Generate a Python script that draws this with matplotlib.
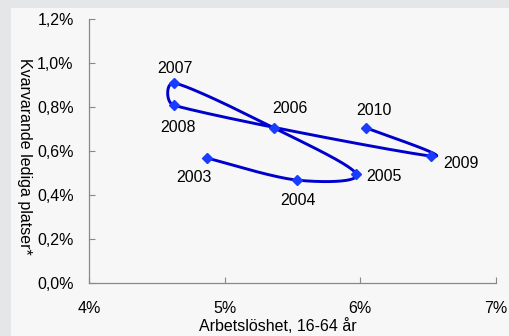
import numpy as np
import matplotlib
matplotlib.use('Agg')
import matplotlib.pyplot as plt
from matplotlib.patches import Rectangle
from matplotlib.ticker import FuncFormatter

plt.rcParams['font.family'] = ['Liberation Sans', 'DejaVu Sans']

years = ['2003', '2004', '2005', '2006', '2007', '2008', '2009', '2010']
# arbetslöshet 16-64 år (%) och kvarvarande lediga platser (%)
unemployment = [4.87, 5.53, 5.97, 5.36, 4.63, 4.625, 6.52, 6.04]
vacancies = [0.568, 0.468, 0.495, 0.706, 0.909, 0.808, 0.577, 0.706]

# etikettförskjutning i pixlar
label_offsets = [(-13, -19), (1, -20), (28, -2), (16, 19),
                 (0, 15), (4, -22), (30, -7), (8, 17)]


def smooth(xs, ys, sx, sy, n=40):
    # utjämnad linje i skärmskala; styrpunkterna begränsas till halva segmentet
    p = np.column_stack([np.array(xs) * sx, np.array(ys) * sy])
    p = np.vstack([p[0], p, p[-1]])
    out = []
    for i in range(1, len(p) - 2):
        p0, p1, p2, p3 = p[i - 1], p[i], p[i + 1], p[i + 2]
        seg_len = np.hypot(*(p2 - p1))
        v1 = (p2 - p0) / 6
        v2 = (p3 - p1) / 6
        l1, l2 = np.hypot(*v1), np.hypot(*v2)
        if l1 > seg_len * 0.4:
            v1 = v1 * (seg_len * 0.4) / l1
        if l2 > seg_len * 0.4:
            v2 = v2 * (seg_len * 0.4) / l2
        c1 = p1 + v1
        c2 = p2 - v2
        t = np.linspace(0, 1, n)[:, None]
        seg = ((1 - t) ** 3 * p1 + 3 * (1 - t) ** 2 * t * c1
               + 3 * (1 - t) * t ** 2 * c2 + t ** 3 * p2)
        out.append(seg if i == 1 else seg[1:])
    out = np.vstack(out)
    return out[:, 0] / sx, out[:, 1] / sy


fig = plt.figure(figsize=(5.09, 3.36), dpi=100)
fig.patch.set_facecolor('#e5e6e8')
fig.add_artist(Rectangle((11 / 509, 0), 1, 1 - 8 / 336, transform=fig.transFigure,
                         facecolor='#f7f7f7', edgecolor='none', zorder=0))

ax = fig.add_axes([89 / 509, 53 / 336, 407 / 509, 264 / 336])
ax.set_facecolor('#f7f7f7')
ax.set_xlim(4, 7)
ax.set_ylim(0, 1.2)

sx, sy = 135.5, 220.0
cx, cy = smooth(unemployment, vacancies, sx, sy)
ax.plot(cx, cy, color='#0000cc', lw=2.1, zorder=2)
ax.plot(unemployment, vacancies, linestyle='none', marker='D', ms=5,
        color='#1a3cff', zorder=3)

for x, y, year, (dx, dy) in zip(unemployment, vacancies, years, label_offsets):
    ax.annotate(year, (x, y), xytext=(dx, dy), textcoords='offset pixels',
                ha='center', va='center', fontsize=11.5, color='black')

ax.set_xticks([4, 5, 6, 7])
ax.set_yticks(np.arange(0, 1.21, 0.2))
ax.xaxis.set_major_formatter(FuncFormatter(lambda v, _: f'{v:.0f}%'))
ax.yaxis.set_major_formatter(FuncFormatter(lambda v, _: f'{v:.1f}%'.replace('.', ',')))
ax.tick_params(direction='in', length=4, color='#888888', labelsize=11.5,
               labelcolor='black')
ax.tick_params(axis='x', pad=13)
ax.tick_params(axis='y', pad=11)

for side in ['top', 'right']:
    ax.spines[side].set_visible(False)
for side in ['left', 'bottom']:
    ax.spines[side].set_color('#888888')
    ax.spines[side].set_linewidth(0.9)

fig.text(278 / 509, 1 - 326 / 336, 'Arbetslöshet, 16-64 år', ha='center',
         va='center', fontsize=11.5)
fig.text(24 / 509, 1 - 156 / 336, 'Kvarvarande lediga platser*', ha='center',
         va='center', rotation=270, fontsize=11.5)

fig.savefig('out.png', dpi=100, facecolor=fig.get_facecolor())
